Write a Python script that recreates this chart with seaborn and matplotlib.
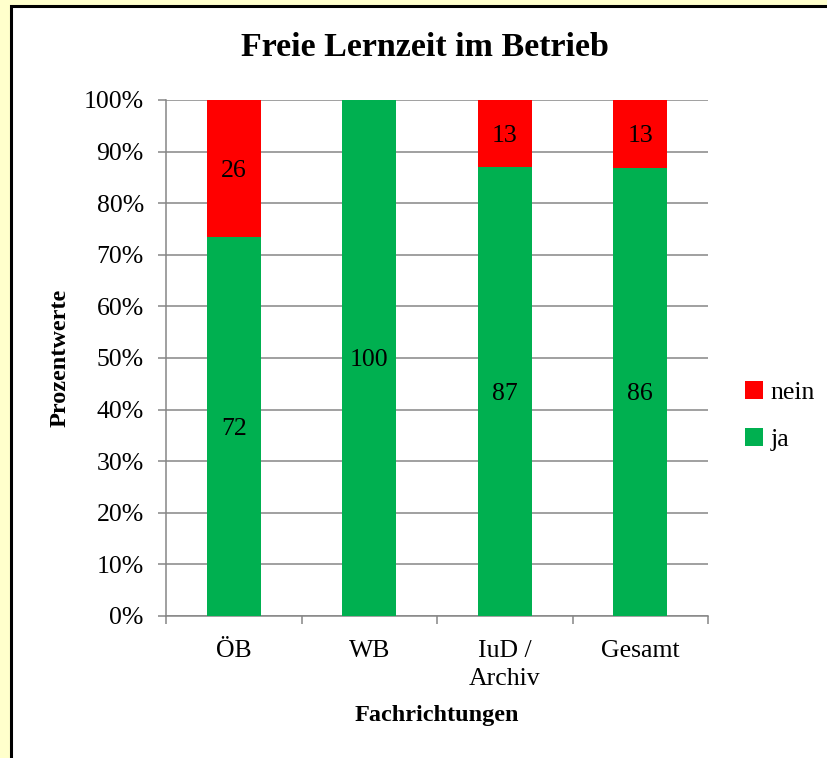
import matplotlib
matplotlib.use("Agg")
import matplotlib.pyplot as plt
from matplotlib.patches import Rectangle, Patch
import seaborn as sns
import pandas as pd
import numpy as np

categories = ["ÖB", "WB", "IuD /\nArchiv", "Gesamt"]
ja = [72, 100, 87, 86]
nein = [26, 0, 13, 13]
series_names = ["nein", "ja"]
colors = {"ja": "#00B050", "nein": "#FF0000"}
yticks = [0, 10, 20, 30, 40, 50, 60, 70, 80, 90, 100]

sns.set_theme(style="white")
plt.rcParams["font.family"] = ["Liberation Serif", "DejaVu Serif"]
plt.rcParams["text.color"] = "black"
plt.rcParams["xtick.color"] = "black"
plt.rcParams["ytick.color"] = "black"
plt.rcParams["xtick.labelcolor"] = "black"
plt.rcParams["ytick.labelcolor"] = "black"

total = np.array(ja) + np.array(nein)
ja_pct = np.array(ja) / total * 100
df = pd.DataFrame({"cat": categories, "total": np.full(len(categories), 100.0), "ja_pct": ja_pct})

fig = plt.figure(figsize=(8.27, 7.58), dpi=100)
fig.patch.set_facecolor("#FFFFCC")
fig.patches.append(Rectangle((11 / 827, -0.1), 1.2, 1 - 6 / 758 + 0.1, transform=fig.transFigure,
                             facecolor="white", edgecolor="black", linewidth=2.2, zorder=-5))

ax = fig.add_axes([166 / 827, 1 - 616 / 758, (708 - 166) / 827, (616 - 100) / 758])
ax.set_zorder(2)
ax.set_facecolor("white")

sns.barplot(data=df, x="cat", y="total", color=colors["nein"], width=0.4, ax=ax, saturation=1,
            zorder=3, linewidth=0, edgecolor="none")
sns.barplot(data=df, x="cat", y="ja_pct", color=colors["ja"], width=0.4, ax=ax, saturation=1,
            zorder=3, linewidth=0, edgecolor="none")

fs = 18.5
for i in range(len(categories)):
    ax.text(i, ja_pct[i] / 2, str(ja[i]), ha="center", va="center_baseline", fontsize=fs, zorder=5,
            color="black")
    if nein[i] > 0:
        ax.text(i, ja_pct[i] + (100 - ja_pct[i]) / 2, str(nein[i]), ha="center", va="center_baseline",
                fontsize=fs, zorder=5, color="black")

ax.set_xlim(-0.5, len(categories) - 0.5)
ax.set_ylim(0, 100)
ax.set_yticks(yticks)
ax.set_yticklabels([f"{v}%" for v in yticks], fontsize=fs)
ax.yaxis.grid(True, color="#868686", linewidth=1.1, zorder=0)
ax.set_axisbelow(True)

ax.set_xticks(range(len(categories)))
ax.set_xticklabels(categories, fontsize=fs, linespacing=1.4)
ax.set_xticks(np.arange(-0.5, len(categories), 1.0), minor=True)
ax.tick_params(axis="x", which="major", length=0, pad=17, labelcolor="black")
ax.tick_params(axis="x", which="minor", length=6, width=1.1, color="#868686", bottom=True)
ax.tick_params(axis="y", which="major", length=6, width=1.1, color="#868686", left=True, pad=10,
               labelcolor="black")

for s in ["top", "right"]:
    ax.spines[s].set_visible(False)
for s in ["left", "bottom"]:
    ax.spines[s].set_color("#868686")
    ax.spines[s].set_linewidth(1.1)

ax.set_xlabel("")
ax.set_ylabel("")
fig.text(437 / 827, 1 - 715 / 758, "Fachrichtungen", ha="center", va="center", fontsize=17.5,
         fontweight="bold", color="black")
fig.text(60 / 827, 1 - 358 / 758, "Prozentwerte", ha="center", va="center", fontsize=17.5,
         fontweight="bold", rotation=90, color="black")
fig.text(425 / 827, 1 - 47 / 758, "Freie Lernzeit im Betrieb", ha="center", va="center",
         fontsize=24.5, fontweight="bold", color="black")

handles = [Patch(facecolor=colors[n], edgecolor="none") for n in series_names]
leg = fig.legend(handles, series_names, loc="center left", bbox_to_anchor=(745 / 827, 1 - 416 / 758),
                 frameon=False, fontsize=fs, handlelength=0.7, handleheight=0.7, handletextpad=0.3,
                 labelspacing=0.9, borderpad=0, borderaxespad=0)
for t in leg.get_texts():
    t.set_color("black")

fig.savefig("out.png", dpi=100, facecolor=fig.get_facecolor())
